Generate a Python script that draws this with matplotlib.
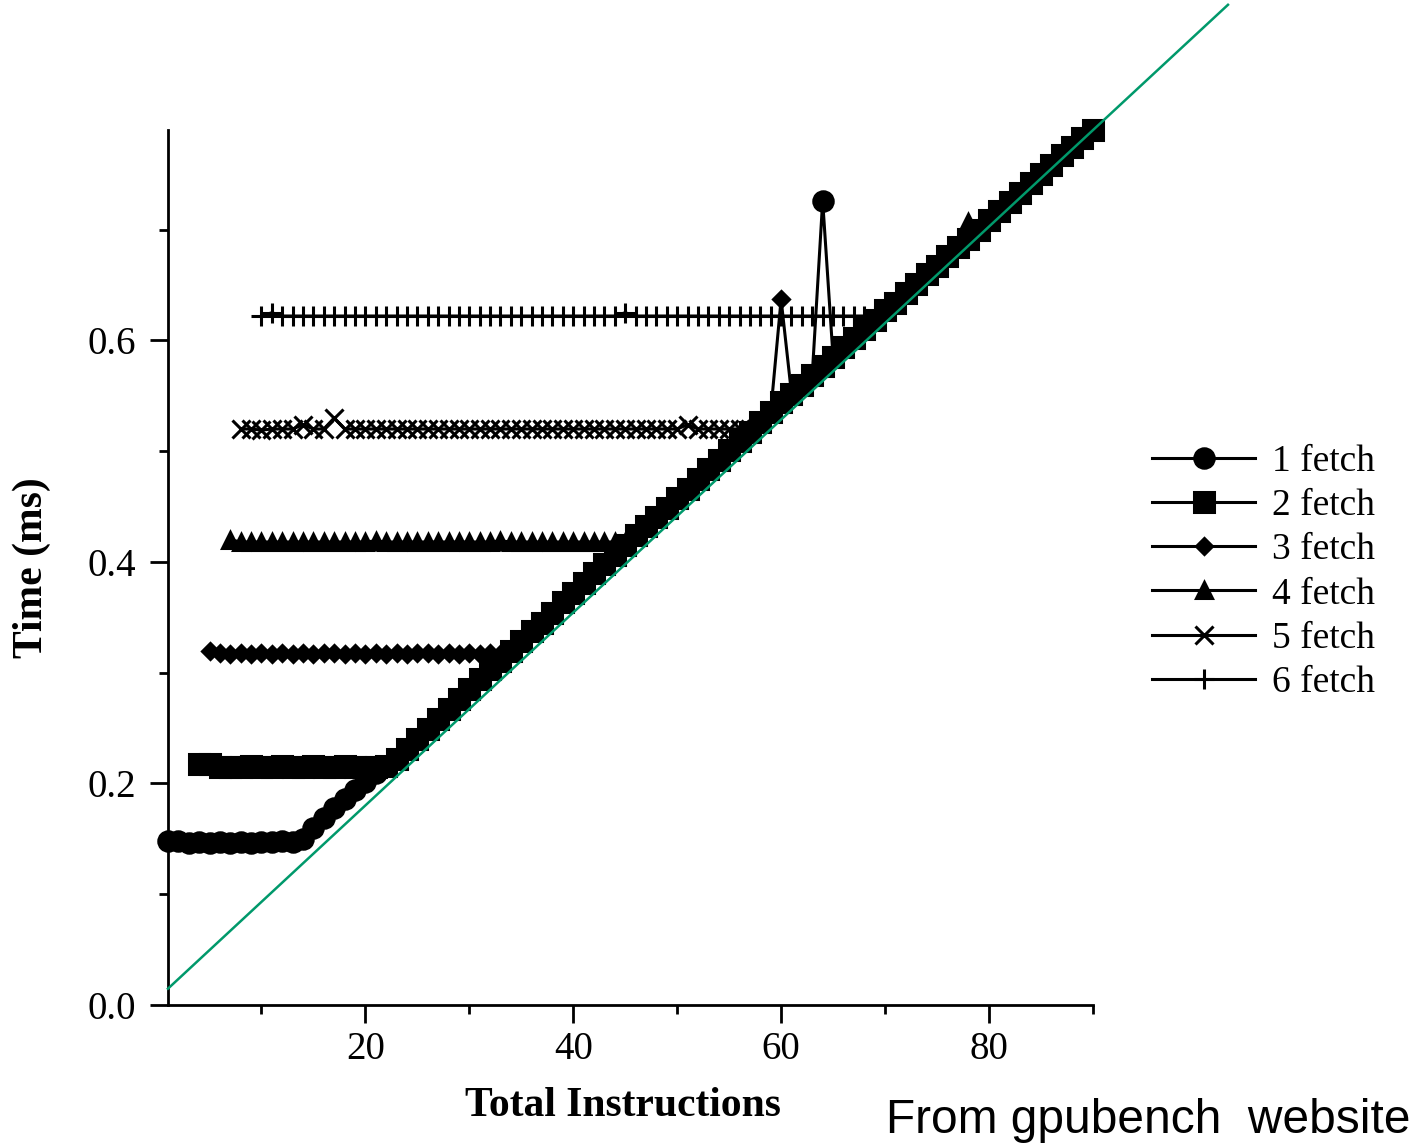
import matplotlib
matplotlib.use('Agg')
import matplotlib.pyplot as plt
from matplotlib.ticker import MultipleLocator

plt.rcParams['font.family'] = ['Liberation Serif', 'DejaVu Serif']

# shared diagonal part of every curve, x = 15..90
ramp_x = list(range(15, 91))
ramp = [0.160, 0.169, 0.178, 0.186, 0.194, 0.201, 0.209, 0.216, 0.222, 0.231,
        0.240, 0.249, 0.258, 0.267, 0.276, 0.285, 0.294, 0.303, 0.311, 0.320,
        0.329, 0.338, 0.345, 0.354, 0.364, 0.372, 0.381, 0.390, 0.398, 0.406,
        0.415, 0.424, 0.432, 0.441, 0.449, 0.458, 0.466, 0.475, 0.484, 0.492,
        0.501, 0.509, 0.517, 0.526, 0.535, 0.544, 0.552, 0.560, 0.569, 0.577,
        0.585, 0.594, 0.602, 0.610, 0.618, 0.627, 0.634, 0.643, 0.651, 0.660,
        0.667, 0.676, 0.684, 0.692, 0.700, 0.709, 0.717, 0.725, 0.733, 0.742,
        0.750, 0.758, 0.767, 0.775, 0.783, 0.790]

labels = ['1 fetch', '2 fetch', '3 fetch', '4 fetch', '5 fetch', '6 fetch']
starts = [1, 4, 5, 7, 8, 10]

# flat part of each curve (before it joins the ramp)
flat1 = [0.148, 0.148, 0.146, 0.147, 0.146, 0.147, 0.146, 0.147, 0.146, 0.147,
         0.147, 0.148, 0.147, 0.150]
flat2 = [0.218, 0.218, 0.215, 0.215, 0.215, 0.216, 0.215, 0.215, 0.216, 0.215,
         0.215, 0.216, 0.215, 0.215, 0.216, 0.215, 0.215, 0.215, 0.216]
flat3 = [0.320, 0.318, 0.317, 0.318, 0.317, 0.318, 0.317, 0.318, 0.317, 0.318,
         0.317, 0.318, 0.318, 0.317, 0.318, 0.317, 0.318, 0.317, 0.318, 0.317,
         0.318, 0.318, 0.317, 0.318, 0.317, 0.318, 0.317, 0.318, 0.317]
flat4 = [0.420, 0.418, 0.418, 0.418, 0.418, 0.418, 0.418, 0.418, 0.418, 0.418,
         0.418, 0.418, 0.418, 0.418, 0.419, 0.418, 0.418, 0.418, 0.418, 0.418,
         0.418, 0.418, 0.418, 0.418, 0.418, 0.418, 0.419, 0.418, 0.418, 0.418,
         0.418, 0.418, 0.418, 0.418, 0.418, 0.418, 0.418, 0.418, 0.418]
flat5 = [0.520, 0.520, 0.519, 0.520, 0.520, 0.520, 0.520, 0.520, 0.520, 0.520,
         0.520, 0.520, 0.520, 0.520, 0.520, 0.520, 0.520, 0.520, 0.520, 0.520,
         0.520, 0.520, 0.520, 0.520, 0.520, 0.520, 0.520, 0.520, 0.520, 0.520,
         0.520, 0.520, 0.520, 0.520, 0.520, 0.520, 0.520, 0.520, 0.520, 0.520,
         0.520, 0.520, 0.520, 0.520, 0.520, 0.520, 0.520, 0.520, 0.520, 0.520]
flat6 = [0.622, 0.622, 0.622, 0.622, 0.622, 0.622, 0.622, 0.622, 0.622, 0.622,
         0.622, 0.622, 0.622, 0.622, 0.622, 0.622, 0.622, 0.622, 0.622, 0.622,
         0.622, 0.622, 0.622, 0.622, 0.622, 0.622, 0.622, 0.622, 0.622, 0.622,
         0.622, 0.622, 0.622, 0.622, 0.622, 0.622, 0.622, 0.622, 0.622, 0.622,
         0.622, 0.622, 0.622, 0.622, 0.622, 0.622, 0.622, 0.622, 0.622, 0.622,
         0.622, 0.622, 0.622, 0.622, 0.622, 0.622, 0.622, 0.622, 0.622, 0.622]
flats = [flat1, flat2, flat3, flat4, flat5, flat6]

# isolated outliers
spikes = [{64: 0.726}, {}, {60: 0.637}, {78: 0.707},
          {14: 0.524, 17: 0.530, 51: 0.524}, {11: 0.625, 45: 0.625}]

# green reference line
fit_x = [1, 103]
fit_y = [0.0147, 0.903]

markers = ['o', 's', 'D', '^', 'x', '+']
msizes = [14, 14, 8.5, 11, 12.5, 14]

fig = plt.figure(figsize=(14.16, 11.45), dpi=100)
ax = fig.add_axes([0.1186, 0.1223, 0.6532, 0.7642])

handles = []
for i in range(6):
    xs = list(range(starts[i], starts[i] + len(flats[i])))
    ys = list(flats[i])
    n = starts[i] + len(flats[i]) - 15
    xs += ramp_x[n:]
    ys += ramp[n:]
    for k, v in spikes[i].items():
        ys[xs.index(k)] = v
    h, = ax.plot(xs, ys, color='black', lw=2.2, marker=markers[i],
                 ms=msizes[i], mew=2.2, clip_on=False, label=labels[i])
    handles.append(h)

ax.plot(fit_x, fit_y, color='#00996b', lw=1.8, clip_on=False, zorder=5)

ax.set_xlim(1, 90)
ax.set_ylim(0, 0.79)
ax.xaxis.set_major_locator(MultipleLocator(20))
ax.xaxis.set_minor_locator(MultipleLocator(10))
ax.yaxis.set_major_locator(MultipleLocator(0.2))
ax.yaxis.set_minor_locator(MultipleLocator(0.1))
for s in ['top', 'right']:
    ax.spines[s].set_visible(False)
for s in ['left', 'bottom']:
    ax.spines[s].set_linewidth(2)
ax.tick_params(which='major', length=13, width=2, labelsize=28)
ax.tick_params(which='minor', length=6.5, width=2)
ax.tick_params(axis='x', which='major', pad=6)
ax.tick_params(axis='y', which='major', pad=10)

fig.text(0.0225, 0.504, 'Time (ms)', rotation=90, ha='center', va='center',
         fontsize=30, fontweight='bold')
fig.text(0.44, 0.0253, 'Total Instructions', ha='center', va='baseline',
         fontsize=30, fontweight='bold')
fig.text(0.6257, 0.0105, 'From gpubench  website', ha='left', va='baseline',
         fontsize=34.5, family='Liberation Sans')

fig.legend(handles=handles, labels=labels, loc='upper left',
           bbox_to_anchor=(0.8136, 0.612), frameon=False, fontsize=27,
           handlelength=2.75, handletextpad=0.45, labelspacing=0.26,
           borderpad=0, borderaxespad=0)

fig.savefig('out.png', dpi=100)
